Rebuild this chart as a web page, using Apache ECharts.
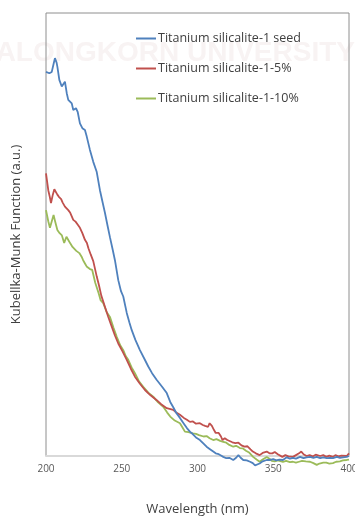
<!DOCTYPE html>
<html>
<head>
<meta charset="utf-8">
<script src="https://cdn.jsdelivr.net/npm/echarts@6/dist/echarts.min.js"></script>
<style>
  html, body { margin: 0; padding: 0; background: #fff; }
  #chart { width: 355px; height: 517px; }
</style>
</head>
<body>
<div id="chart"></div>
<script>
const seriesNames = ['Titanium silicalite-1 seed', 'Titanium silicalite-1-5%', 'Titanium silicalite-1-10%']
const xTicks = [200, 250, 300, 350, 400]

// [wavelength (nm), K-M value]
const seedData = [
  [200, 0.867], [201, 0.866], [202.2, 0.864], [203, 0.865], [203.8, 0.867], [205, 0.885], [205.9, 0.898],
  [207, 0.888], [207.5, 0.879], [208.8, 0.849], [210.4, 0.834], [211.4, 0.837], [212.5, 0.845], [213.7, 0.819],
  [214.7, 0.804], [216, 0.800], [217, 0.796], [218, 0.781], [219.8, 0.785], [220.9, 0.777], [222.4, 0.751],
  [224, 0.740], [225.7, 0.736], [226.9, 0.721], [229, 0.691], [231.2, 0.664], [233.5, 0.641], [235.6, 0.600],
  [237.2, 0.575], [238.9, 0.549], [240.5, 0.522], [242.2, 0.494], [244, 0.466], [245.5, 0.442], [247.7, 0.397],
  [249.5, 0.372], [251, 0.360], [253.3, 0.323], [255, 0.302], [256.6, 0.284], [259, 0.262], [262, 0.239],
  [265, 0.219], [267.5, 0.202], [270, 0.187], [273, 0.172], [276.5, 0.157], [279.7, 0.142], [282, 0.122],
  [284, 0.110], [286, 0.097], [288.4, 0.086], [291, 0.073], [293, 0.063], [295, 0.055], [297, 0.049],
  [299, 0.042], [301.6, 0.036], [304, 0.028], [306, 0.021], [308, 0.016], [310.4, 0.010], [312, 0.006],
  [314, 0.004], [315.5, 0.001], [317, -0.002], [319, -0.005], [321, -0.004], [323.6, -0.009], [325.5, -0.004],
  [327, 0.002], [328.5, -0.004], [330.2, -0.009], [332.5, -0.010], [334.7, -0.013], [336.5, -0.016], [338, -0.021],
  [339.1, -0.025], [341, -0.017], [343, -0.012], [345.7, -0.009], [348, -0.009], [350, -0.007], [352, -0.010],
  [354, -0.008], [356.4, -0.009], [358.9, -0.003], [361, -0.006], [363, -0.004], [365, -0.006], [367.7, -0.002],
  [370, -0.005], [372, -0.003], [374.3, -0.002], [376.5, -0.004], [378.7, -0.002], [381, -0.005], [383, -0.003],
  [385.3, -0.005], [387.5, -0.004], [389.4, -0.005], [392, -0.002], [394, -0.004], [396, -0.003], [398.5, -0.002],
  [400, 0.000]
]

const pct5Data = [
  [200, 0.638], [201.5, 0.600], [202.5, 0.585], [203.3, 0.571], [204.5, 0.590], [205.5, 0.602], [206.5, 0.598],
  [207.5, 0.590], [208.5, 0.585], [210, 0.580], [211, 0.572], [212.5, 0.563], [213.5, 0.566], [214.7, 0.555],
  [216, 0.549], [217, 0.545], [218, 0.533], [219.5, 0.529], [221, 0.522], [222.4, 0.515], [224, 0.503],
  [225.7, 0.488], [227, 0.481], [228, 0.469], [229.5, 0.455], [231.2, 0.440], [233.5, 0.405], [235, 0.385],
  [236.5, 0.362], [238.9, 0.337], [241, 0.315], [243.4, 0.292], [245.5, 0.272], [247.7, 0.254], [250.5, 0.236],
  [253.3, 0.217], [256, 0.197], [258.7, 0.179], [262, 0.163], [265.3, 0.149], [269, 0.137], [273.1, 0.126],
  [276, 0.117], [279.7, 0.108], [282.2, 0.106], [284, 0.104], [286, 0.098], [288.4, 0.093], [291, 0.086],
  [293, 0.082], [295, 0.077], [297, 0.078], [299, 0.073], [301.6, 0.074], [303.5, 0.070], [305, 0.068],
  [307, 0.066], [308, 0.074], [309.5, 0.068], [311, 0.058], [312, 0.052], [314, 0.052], [315.5, 0.044],
  [316.5, 0.036], [318, 0.040], [319.7, 0.036], [321, 0.038], [323, 0.031], [325, 0.029], [327, 0.030],
  [329, 0.024], [331, 0.021], [333, 0.022], [335, 0.015], [336.5, 0.010], [338.5, 0.006], [341, 0.002],
  [343, 0.007], [345.7, 0.010], [347.5, 0.006], [349.4, 0.006], [351, 0.009], [353, 0.004], [356, -0.002],
  [358, 0.002], [360, -0.001], [363, -0.002], [365, 0.002], [367, 0.006], [368.5, 0.010], [370, 0.004],
  [372, 0.000], [374, 0.002], [376, -0.001], [378, 0.003], [381, 0.000], [383, 0.002], [385, -0.002],
  [387, 0.001], [389.4, -0.002], [391, 0.002], [393, -0.001], [395, 0.001], [398.5, 0.000], [400, 0.006]
]

const pct10Data = [
  [200, 0.555], [201.5, 0.530], [202.6, 0.515], [203.8, 0.512], [205, 0.544], [206, 0.530], [207.5, 0.510],
  [209, 0.503], [210.5, 0.498], [212, 0.481], [213.5, 0.495], [215, 0.486], [216, 0.480], [217.5, 0.472],
  [218.5, 0.469], [220, 0.463], [221, 0.466], [222, 0.458], [223.5, 0.450], [224.5, 0.442], [226, 0.433],
  [227, 0.427], [229, 0.422], [230.5, 0.420], [232.5, 0.391], [234.8, 0.367], [236, 0.352], [237.8, 0.345],
  [240, 0.325], [242.2, 0.314], [244.5, 0.290], [246.7, 0.269], [249, 0.250], [251, 0.239], [252.7, 0.225],
  [254.3, 0.217], [256.5, 0.200], [258.7, 0.187], [261.5, 0.168], [264.2, 0.156], [267.5, 0.143], [270.8, 0.134],
  [274, 0.121], [277.4, 0.111], [280, 0.098], [282, 0.089], [285, 0.080], [288.4, 0.074], [290, 0.065],
  [291.7, 0.055], [294, 0.054], [297, 0.051], [299, 0.050], [301, 0.047], [304, 0.044], [306, 0.045],
  [308, 0.040], [310.4, 0.036], [312.5, 0.038], [315, 0.034], [317, 0.032], [319, 0.030], [321, 0.025],
  [323.6, 0.021], [325.5, 0.023], [328, 0.018], [330, 0.017], [332, 0.012], [334, 0.008], [336.7, -0.002],
  [339, -0.008], [341, -0.013], [343, -0.008], [345.7, -0.002], [347.5, -0.006], [349, -0.011], [351, -0.012],
  [353, -0.010], [356.4, -0.013], [358.5, -0.011], [361, -0.014], [363, -0.013], [365, -0.015], [367, -0.013],
  [369, -0.011], [371.5, -0.012], [374.3, -0.013], [376.5, -0.016], [378.7, -0.020], [380.5, -0.017],
  [383, -0.015], [385, -0.015], [387, -0.017], [389.4, -0.016], [391.5, -0.013], [394, -0.012], [396, -0.010],
  [398.5, -0.009], [400, -0.008]
]

const colors = ['#4F81BD', '#C0504D', '#9BBB59']
const fontFamily = '"Open Sans", "Noto Sans", sans-serif'

const myChart = echarts.init(document.getElementById('chart'))

const lineSeries = (name, data, i) => ({
  name,
  type: 'line',
  data,
  showSymbol: false,
  clip: false,
  lineStyle: { color: colors[i], width: 1.8 },
  itemStyle: { color: colors[i] },
  z: 3 - i
})

myChart.setOption({
  animation: false,
  backgroundColor: '#fff',
  textStyle: { fontFamily },
  graphic: [
    {
      type: 'text',
      z: -10,
      silent: true,
      style: {
        text: 'CHULALONGKORN UNIVERSITY',
        x: 355,
        y: 53,
        align: 'right',
        verticalAlign: 'middle',
        fill: '#f8f3f3',
        font: 'bold 28px "Liberation Sans", sans-serif'
      }
    }
  ],
  grid: {
    left: 46,
    right: 6,
    top: 13,
    bottom: 61,
    outerBoundsMode: 'none',
    containLabel: false,
    show: true,
    borderColor: '#8e8e8e',
    borderWidth: 1,
    backgroundColor: 'transparent'
  },
  legend: {
    orient: 'vertical',
    left: 136,
    top: 32,
    padding: 0,
    itemWidth: 20,
    itemHeight: 2,
    itemGap: 17,
    icon: 'rect',
    data: seriesNames,
    textStyle: { color: '#404040', fontSize: 12.5, fontFamily, padding: [0, 0, 0, -3] }
  },
  xAxis: {
    type: 'value',
    min: 200,
    max: 400,
    interval: 50,
    name: 'Wavelength (nm)',
    nameLocation: 'middle',
    nameGap: 47,
    nameTextStyle: { color: '#404040', fontSize: 13, fontFamily },
    axisLine: { show: true, lineStyle: { color: '#d9d9d9', width: 2 } },
    axisTick: { show: false },
    splitLine: { show: false },
    axisLabel: {
      color: '#595959',
      fontSize: 10,
      margin: 8,
      formatter: v => (xTicks.includes(v) ? String(v) : '')
    }
  },
  yAxis: {
    type: 'value',
    min: 0,
    max: 1,
    name: 'Kubellka-Munk Function (a.u.)',
    nameLocation: 'middle',
    nameGap: 23,
    nameRotate: 90,
    nameTextStyle: { color: '#404040', fontSize: 13, fontFamily },
    axisLine: { show: false },
    axisTick: { show: false },
    axisLabel: { show: false },
    splitLine: { show: false }
  },
  series: [
    lineSeries(seriesNames[0], seedData, 0),
    lineSeries(seriesNames[1], pct5Data, 1),
    lineSeries(seriesNames[2], pct10Data, 2)
  ]
})
</script>
</body>
</html>
